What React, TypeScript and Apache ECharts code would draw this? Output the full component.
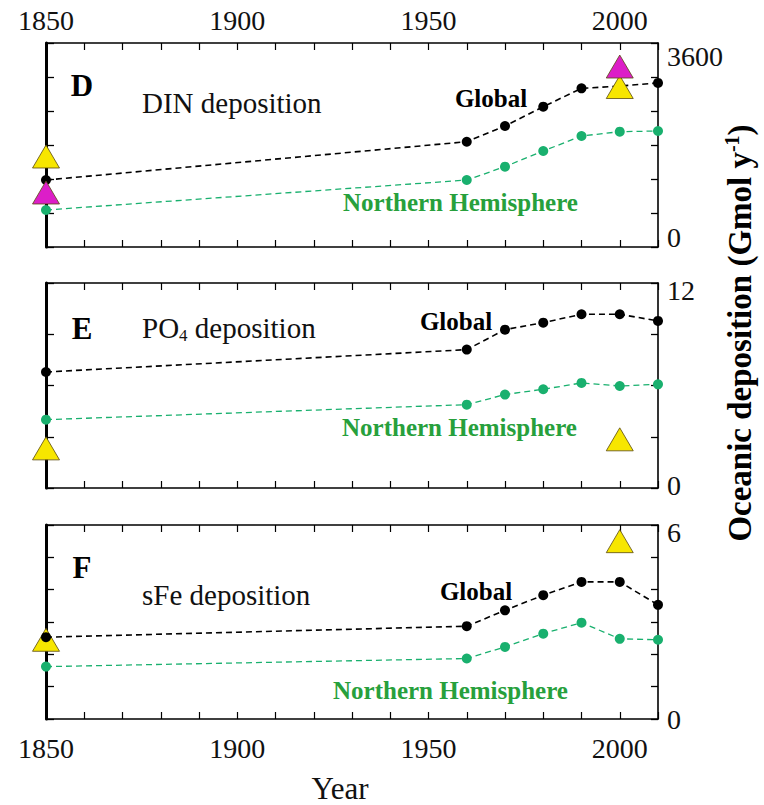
import React, { useEffect, useRef } from "react";
import * as echarts from "echarts";

// ---- data ----
const years = [1850, 1960, 1970, 1980, 1990, 2000, 2010];
const dinGlobal = [1182, 1858, 2135, 2476, 2800, 2840, 2895];
const dinNH = [653, 1182, 1418, 1694, 1959, 2035, 2047];
const po4Global = [6.79, 8.1, 9.27, 9.68, 10.17, 10.17, 9.78];
const po4NH = [4.0, 4.88, 5.47, 5.78, 6.15, 5.97, 6.07];
const sfeGlobal = [2.53, 2.87, 3.36, 3.83, 4.24, 4.24, 3.53];
const sfeNH = [1.62, 1.87, 2.23, 2.64, 2.98, 2.48, 2.45];
const dinYellow = [[1850, 1597], [2000, 2823]];
const dinMagenta = [[1850, 962], [2000, 3185]];
const po4Yellow = [[1850, 2.32], [2000, 2.85]];
const sfeYellow = [[1850, 2.45], [2000, 5.5]];
const xTickLabels = [1850, 1900, 1950, 2000];
const panelLetters = ["D", "E", "F"];
const panelTitles = ["DIN deposition", "PO4 deposition", "sFe deposition"];
const yMax = [3600, 12, 6];
const yInterval = [600, 3, 1];

const FONT = '"Liberation Serif", "Times New Roman", "DejaVu Serif", serif';
const BLACK = "#000000";
const GREEN_DOT = "#19b06e";
const GREEN_TEXT = "#27a03c";
const YELLOW = "#f7e600";
const MAGENTA = "#dc1ec8";

const layout = [
  { top: 43, height: 204, maxShift: 13, minShift: 10, triZ: 5 },
  { top: 283, height: 205, maxShift: 7, minShift: 3, triZ: 5 },
  { top: 525, height: 204, maxShift: 7, minShift: 0, triZ: 2 },
];
const GRID_LEFT = 46;
const GRID_WIDTH = 612;

export default function App() {
  const ref = useRef<HTMLDivElement>(null);
  useEffect(() => {
    if (!ref.current) return;
    const chart = echarts.init(ref.current, null, { renderer: "svg" });
    const globals = [dinGlobal, po4Global, sfeGlobal];
    const nhs = [dinNH, po4NH, sfeNH];
    const tris = [
      [{ d: dinYellow, c: YELLOW }, { d: dinMagenta, c: MAGENTA }],
      [{ d: po4Yellow, c: YELLOW }],
      [{ d: sfeYellow, c: YELLOW }],
    ];

    const grid: any[] = [];
    const xAxis: any[] = [];
    const yAxis: any[] = [];
    const series: any[] = [];

    layout.forEach((L, i) => {
      grid.push({ left: GRID_LEFT, top: L.top, width: GRID_WIDTH, height: L.height, show: false });
      const xBase = (pos: string, showLabels: boolean) => ({
        type: "value",
        gridIndex: i,
        position: pos,
        min: 1850,
        max: 2010,
        interval: 10,
        axisLine: { show: true, onZero: false, lineStyle: { color: BLACK, width: 1.6 } },
        axisTick: { show: true, inside: true, length: 7, lineStyle: { color: BLACK, width: 1.2 } },
        splitLine: { show: false },
        axisLabel: {
          show: showLabels,
          margin: pos === "top" ? 9 : 15,
          fontFamily: FONT,
          fontSize: 28,
          color: "#111",
          showMinLabel: true,
          showMaxLabel: true,
          formatter: (v: number) => (xTickLabels.includes(v) ? String(v) : ""),
        },
      });
      const bottom: any = xBase("bottom", i === 2);
      if (i === 2) {
        bottom.name = "Year";
        bottom.nameLocation = "middle";
        bottom.nameGap = 54;
        bottom.nameTextStyle = { fontFamily: FONT, fontSize: 31, color: "#111", padding: [0, 24, 0, 0] };
      }
      xAxis.push(bottom);
      xAxis.push(xBase("top", i === 0));

      const max = yMax[i];
      yAxis.push({
        type: "value",
        gridIndex: i,
        position: "left",
        min: 0,
        max,
        interval: yInterval[i],
        axisLine: { show: true, onZero: false, lineStyle: { color: BLACK, width: 3 } },
        axisTick: { show: true, inside: true, length: 8, lineStyle: { color: BLACK, width: 1.3 } },
        splitLine: { show: false },
        axisLabel: { show: false },
      });
      yAxis.push({
        type: "value",
        gridIndex: i,
        position: "right",
        min: 0,
        max,
        interval: yInterval[i],
        axisLine: { show: true, onZero: false, lineStyle: { color: BLACK, width: 1.6 } },
        axisTick: { show: true, inside: true, length: 7, lineStyle: { color: BLACK, width: 1.3 } },
        splitLine: { show: false },
        axisLabel: {
          show: true,
          margin: 9,
          showMinLabel: true,
          showMaxLabel: true,
          fontFamily: FONT,
          fontSize: 28,
          color: "#111",
          formatter: (v: number) => (v === max ? `{mx|${v}}` : v === 0 ? "{mn|0}" : ""),
          rich: {
            mx: { fontFamily: FONT, fontSize: 28, color: "#111", padding: [2 * L.maxShift, 0, 0, 0] },
            mn: { fontFamily: FONT, fontSize: 28, color: "#111", padding: [0, 0, 2 * L.minShift, 0] },
          },
        },
      });

      const xi = i * 2;
      const yi = i * 2;
      series.push({
        type: "line",
        name: "Global",
        xAxisIndex: xi,
        yAxisIndex: yi,
        data: years.map((y, k) => [y, globals[i][k]]),
        symbol: "circle",
        symbolSize: 10,
        clip: false,
        itemStyle: { color: BLACK },
        lineStyle: { color: BLACK, width: 1.6, type: [6, 4] },
        z: 3,
      });
      series.push({
        type: "line",
        name: "Northern Hemisphere",
        xAxisIndex: xi,
        yAxisIndex: yi,
        data: years.map((y, k) => [y, nhs[i][k]]),
        symbol: "circle",
        symbolSize: 10,
        clip: false,
        itemStyle: { color: GREEN_DOT },
        lineStyle: { color: GREEN_DOT, width: 1.3, type: [6, 4] },
        z: 3,
      });
      tris[i].forEach((t) => {
        series.push({
          type: "scatter",
          xAxisIndex: xi,
          yAxisIndex: yi,
          data: t.d,
          symbol: "triangle",
          symbolSize: [27, 23],
          clip: false,
          itemStyle: { color: t.c, opacity: 1, borderColor: "#5a4a10", borderWidth: 0.8 },
          z: L.triZ,
        });
      });
    });

    const txt = (text: string, x: number, y: number, o: any = {}) => ({
      type: "text",
      x,
      y,
      z: 10,
      style: {
        text,
        fontFamily: FONT,
        fontSize: 29,
        fill: "#111",
        align: "left",
        verticalAlign: "middle",
        ...o,
      },
    });

    const letterY = [85, 328, 567];
    const titleY = [103, 328, 595];
    const globalPos = [[491, 98], [456, 321], [476, 591]];
    const nhPos = [[343, 202], [342, 427], [333, 690]];
    const graphics: any[] = [];
    for (let i = 0; i < 3; i++) {
      graphics.push(txt(panelLetters[i], 82, letterY[i], { fontWeight: "bold", fontSize: 31, align: "center", fill: "#000" }));
      if (i === 1) {
        graphics.push({
          type: "text",
          x: 142,
          y: titleY[i],
          z: 10,
          style: {
            text: "{n|PO}{s|4}{n| deposition}",
            align: "left",
            verticalAlign: "middle",
            rich: {
              n: { fontFamily: FONT, fontSize: 29, fill: "#111", lineHeight: 32, verticalAlign: "middle" },
              s: { fontFamily: FONT, fontSize: 17, fill: "#111", lineHeight: 32, verticalAlign: "bottom", padding: [12, 0, 0, 0] },
            },
          },
        });
      } else {
        graphics.push(txt(panelTitles[i], 142, titleY[i]));
      }
      graphics.push(txt("Global", globalPos[i][0], globalPos[i][1], { fontWeight: "bold", fontSize: 25, align: "center", fill: "#000" }));
      graphics.push(txt("Northern Hemisphere", nhPos[i][0], nhPos[i][1], { fontWeight: "bold", fontSize: 25, fill: GREEN_TEXT }));
    }
    graphics.push({
      type: "text",
      x: 740,
      y: 333,
      rotation: Math.PI / 2,
      z: 10,
      style: {
        text: "{a|Oceanic deposition (Gmol y}{b|-1}{a|)}",
        align: "center",
        verticalAlign: "middle",
        rich: {
          a: { fontFamily: FONT, fontSize: 33, fontWeight: "bold", fill: "#000", lineHeight: 36 },
          b: { fontFamily: FONT, fontSize: 20, fontWeight: "bold", fill: "#000", lineHeight: 36, verticalAlign: "top", padding: [0, 0, 12, 0] },
        },
      },
    });

    chart.setOption({
      animation: false,
      backgroundColor: "#ffffff",
      grid,
      xAxis,
      yAxis,
      series,
      graphic: graphics,
    });
    return () => chart.dispose();
  }, []);
  return <div ref={ref} style={{ position: "absolute", left: 0, top: 0, width: 764, height: 805 }} />;
}
